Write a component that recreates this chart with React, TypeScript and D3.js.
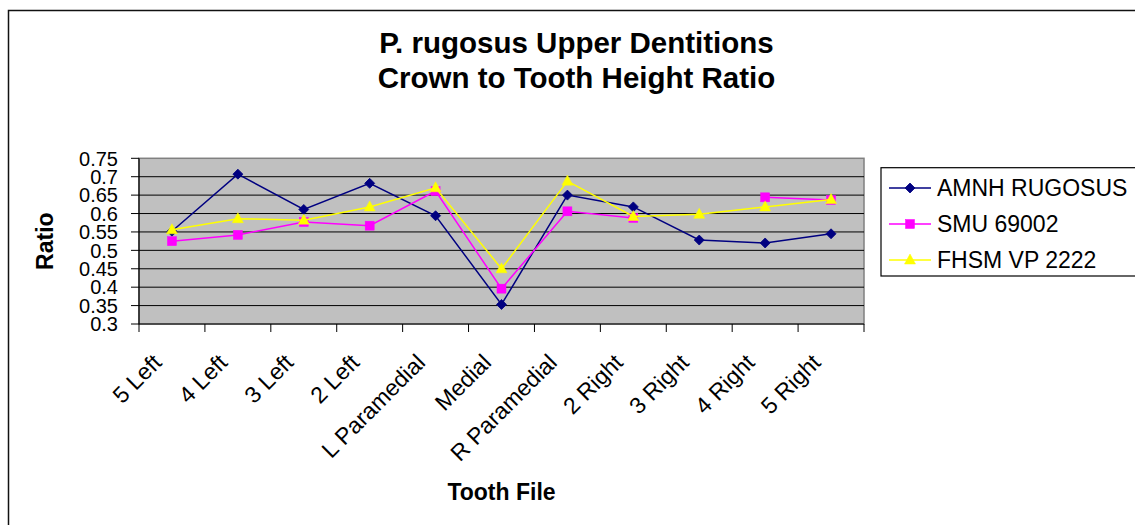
import React from "react";
import * as d3 from "d3";

const categories = ["5 Left", "4 Left", "3 Left", "2 Left", "L Paramedial", "Medial", "R Paramedial", "2 Right", "3 Right", "4 Right", "5 Right"];
const amnh: (number | null)[] = [0.552, 0.707, 0.611, 0.682, 0.594, 0.353, 0.650, 0.618, 0.528, 0.520, 0.545];
const smu: (number | null)[] = [0.525, 0.542, 0.577, 0.567, 0.661, 0.396, 0.606, 0.588, null, 0.644, 0.637];
const fhsm: (number | null)[] = [0.556, 0.586, 0.582, 0.618, 0.670, 0.450, 0.688, 0.592, 0.598, 0.618, 0.638];
const yTicks = [0.3, 0.35, 0.4, 0.45, 0.5, 0.55, 0.6, 0.65, 0.7, 0.75];
const seriesNames = ["AMNH RUGOSUS", "SMU 69002", "FHSM VP 2222"];
const seriesColors = ["#000080", "#FF00FF", "#FFFF00"];
const seriesValues = [amnh, smu, fhsm];
const seriesShapes = ["diamond", "square", "triangle"];

const W = 1135, H = 525;
const PL = 139, PR = 864, PT = 158.3, PB = 324;
const FONT = "Arial, 'Liberation Sans', sans-serif";

function Marker({ shape, x, y, color }: { shape: string; x: number; y: number; color: string }) {
  if (shape === "diamond") {
    return <path d={`M${x},${y - 5} L${x + 5},${y} L${x},${y + 5} L${x - 5},${y} Z`} fill={color} stroke={color} strokeWidth={0.8} />;
  }
  if (shape === "square") {
    return <rect x={x - 4.5} y={y - 4.5} width={9} height={9} fill={color} stroke={color} strokeWidth={0.5} />;
  }
  return <path d={`M${x},${y - 6} L${x + 5.5},${y + 4} L${x - 5.5},${y + 4} Z`} fill={color} stroke={color} strokeWidth={0.5} />;
}

export default function App() {
  const x = d3.scaleBand<string>().domain(categories).range([PL, PR]).padding(0);
  const y = d3.scaleLinear().domain([0.3, 0.75]).range([PB, PT]);
  const cx = (c: string) => (x(c) as number) + x.bandwidth() / 2;
  const line = d3
    .line<number | null>()
    .defined((d) => d != null)
    .x((_, i) => cx(categories[i]))
    .y((d) => y(d as number));

  const boundaries = categories.map((c) => x(c) as number).concat([PR]);

  return (
    <div style={{ position: "fixed", left: 0, top: 0, width: W, height: H, background: "#fff" }}>
      <svg width={W} height={H} style={{ display: "block" }} fontFamily={FONT}>
        <rect x={0} y={0} width={W} height={H} fill="#fff" />
        <rect x={8.5} y={10.5} width={W + 20} height={H + 20} fill="none" stroke="#111" strokeWidth={1.5} />

        {/* Title */}
        <text x={576.5} y={53} textAnchor="middle" fontSize={29.5} fontWeight="bold" fill="#000">P. rugosus Upper Dentitions</text>
        <text x={576.5} y={88} textAnchor="middle" fontSize={29.5} fontWeight="bold" fill="#000">Crown to Tooth Height Ratio</text>

        {/* Plot area */}
        <rect x={PL} y={PT} width={PR - PL} height={PB - PT} fill="#C0C0C0" stroke="#808080" strokeWidth={1.5} />
        {yTicks.filter((t) => t > 0.3 && t < 0.75).map((t) => (
          <line key={t} x1={PL} x2={PR} y1={y(t)} y2={y(t)} stroke="#000" strokeWidth={1} />
        ))}
        {/* axes */}
        <line x1={PL} x2={PL} y1={PT} y2={PB} stroke="#000" strokeWidth={1.2} />
        <line x1={PL} x2={PR} y1={PB} y2={PB} stroke="#000" strokeWidth={1.2} />
        {yTicks.map((t) => (
          <g key={t}>
            <line x1={PL - 8} x2={PL} y1={y(t)} y2={y(t)} stroke="#000" strokeWidth={1} />
            <text x={118} y={y(t)} dy="0.36em" textAnchor="end" fontSize={20} fill="#000">{String(t)}</text>
          </g>
        ))}
        {boundaries.map((b, i) => (
          <line key={i} x1={b} x2={b} y1={PB} y2={PB + 8} stroke="#000" strokeWidth={1} />
        ))}
        {categories.map((c) => (
          <text key={c} transform={`translate(${cx(c) - 9},${PB + 40}) rotate(-45)`} textAnchor="end" fontSize={23} fill="#000">{c}</text>
        ))}

        {/* Series */}
        {seriesValues.map((vals, si) => (
          <g key={si}>
            <path d={line(vals) || ""} fill="none" stroke={seriesColors[si]} strokeWidth={1.5} />
            {vals.map((v, i) =>
              v == null ? null : <Marker key={i} shape={seriesShapes[si]} x={cx(categories[i])} y={y(v)} color={seriesColors[si]} />
            )}
          </g>
        ))}

        {/* Axis titles */}
        <text transform={`translate(53,${(PT + PB) / 2}) rotate(-90)`} textAnchor="middle" fontSize={23} fontWeight="bold" fill="#000">Ratio</text>
        <text x={(PL + PR) / 2} y={500} textAnchor="middle" fontSize={23} fontWeight="bold" fill="#000">Tooth File</text>

        {/* Legend */}
        <rect x={881} y={167.7} width={300} height={108.3} fill="#fff" stroke="#000" strokeWidth={1.2} />
        {seriesNames.map((n, i) => {
          const ly = 188 + i * 36;
          return (
            <g key={n}>
              <line x1={889} x2={931} y1={ly} y2={ly} stroke={seriesColors[i]} strokeWidth={1.5} />
              <Marker shape={seriesShapes[i]} x={910} y={ly} color={seriesColors[i]} />
              <text x={937} y={ly} dy="0.36em" fontSize={23} fill="#000">{n}</text>
            </g>
          );
        })}
      </svg>
    </div>
  );
}
